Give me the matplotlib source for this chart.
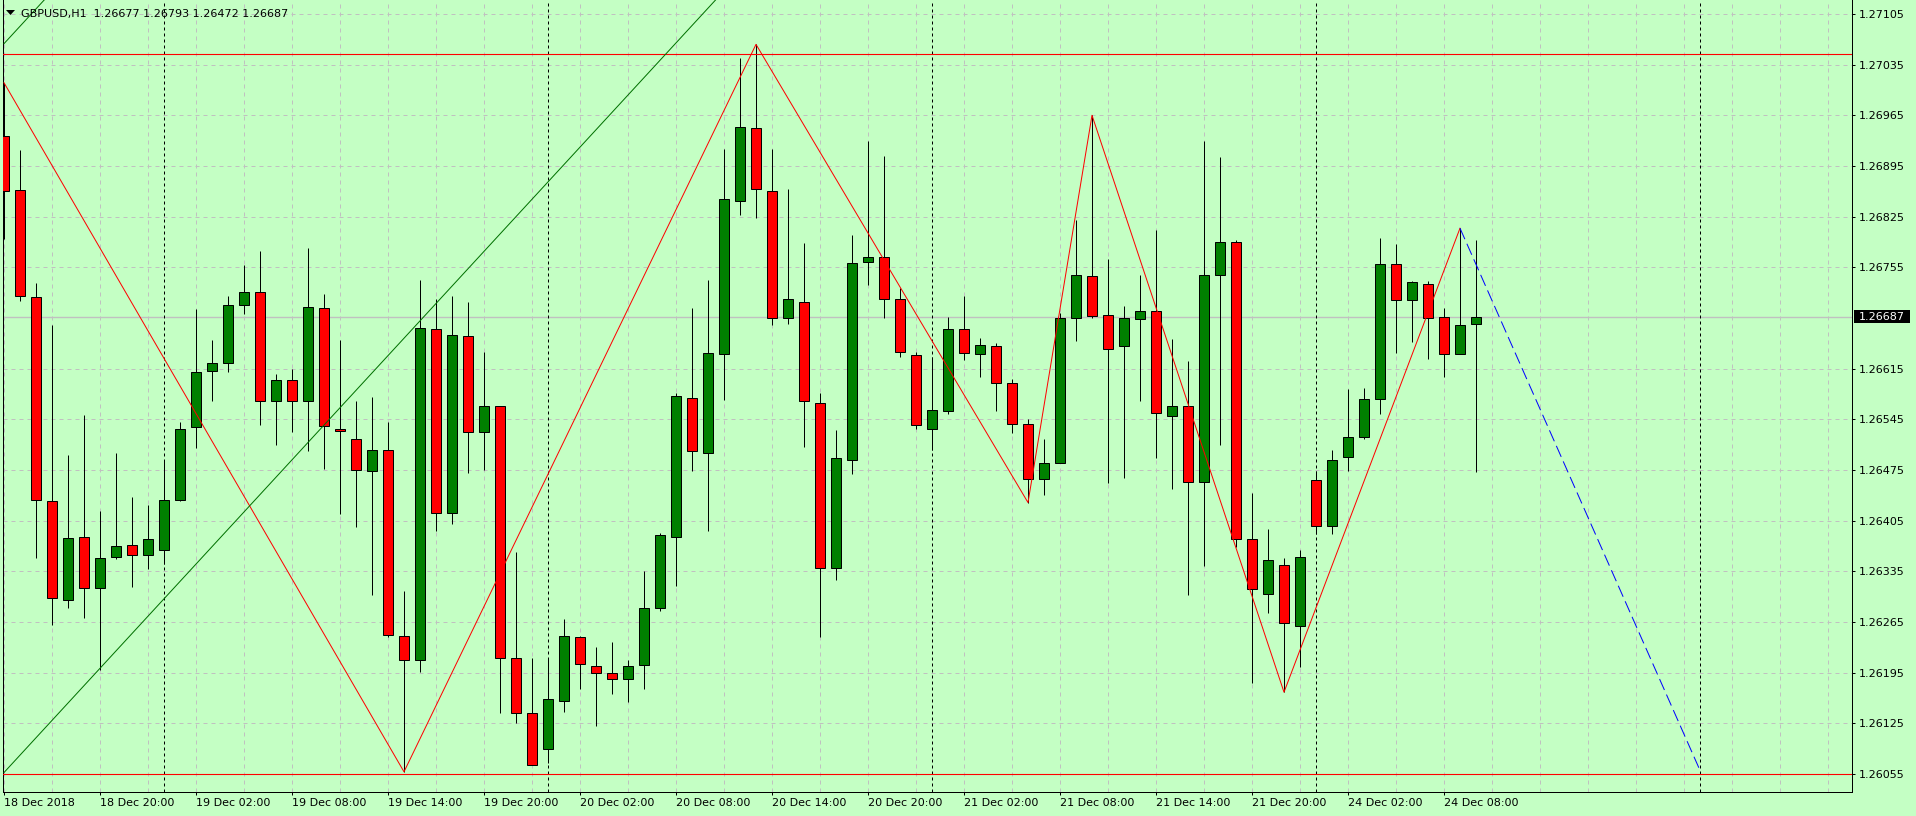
import matplotlib.pyplot as plt
import matplotlib.patches as mpatches
import matplotlib.transforms as mtransforms
import numpy as np

# GBPUSD H1 bars, 18 Dec 14:00 -> 24 Dec 10:00 (weekend skipped)
opens = [1.26936, 1.26862, 1.26714, 1.26432, 1.26296, 1.26383, 1.26312, 1.26355, 1.26371, 1.26358,
         1.26364, 1.26434, 1.26534, 1.26612, 1.26623, 1.26703, 1.26721, 1.26570, 1.26599, 1.26570,
         1.26699, 1.26532, 1.26518, 1.26473, 1.26502, 1.26245, 1.26213, 1.26670, 1.26415, 1.26660,
         1.26527, 1.26563, 1.26215, 1.26139, 1.26090, 1.26156, 1.26244, 1.26204, 1.26194, 1.26186,
         1.26206, 1.26284, 1.26383, 1.26575, 1.26499, 1.26635, 1.26847, 1.26948, 1.26861, 1.26685,
         1.26707, 1.26568, 1.26340, 1.26489, 1.26762, 1.26769, 1.26711, 1.26634, 1.26532, 1.26557,
         1.26670, 1.26635, 1.26646, 1.26595, 1.26539, 1.26462, 1.26484, 1.26685, 1.26743, 1.26689,
         1.26646, 1.26684, 1.26694, 1.26549, 1.26564, 1.26458, 1.26744, 1.26790, 1.26380, 1.26303,
         1.26344, 1.26259, 1.26461, 1.26398, 1.26493, 1.26520, 1.26573, 1.26760, 1.26710, 1.26732,
         1.26686, 1.26635, 1.26677]
highs = [1.27010, 1.26917, 1.26733, 1.26675, 1.26495, 1.26551, 1.26418, 1.26499, 1.26438, 1.26426,
         1.26489, 1.26541, 1.26698, 1.26654, 1.26716, 1.26758, 1.26777, 1.26607, 1.26615, 1.26781,
         1.26718, 1.26655, 1.26570, 1.26576, 1.26541, 1.26308, 1.26737, 1.26711, 1.26715, 1.26707,
         1.26638, 1.26564, 1.26361, 1.26215, 1.26215, 1.26269, 1.26245, 1.26231, 1.26237, 1.26213,
         1.26335, 1.26388, 1.26582, 1.26699, 1.26737, 1.26918, 1.27044, 1.27063, 1.26918, 1.26863,
         1.26788, 1.26581, 1.26530, 1.26800, 1.26929, 1.26909, 1.26727, 1.26638, 1.26631, 1.26687,
         1.26716, 1.26658, 1.26651, 1.26600, 1.26546, 1.26518, 1.26692, 1.26820, 1.26965, 1.26766,
         1.26702, 1.26744, 1.26806, 1.26656, 1.26626, 1.26930, 1.26907, 1.26793, 1.26443, 1.26393,
         1.26353, 1.26365, 1.26473, 1.26503, 1.26587, 1.26588, 1.26796, 1.26787, 1.26736, 1.26736,
         1.26699, 1.26809, 1.26793]
lows = [1.26794, 1.26708, 1.26353, 1.26261, 1.26284, 1.26271, 1.26198, 1.26352, 1.26313, 1.26338,
        1.26345, 1.26432, 1.26505, 1.26570, 1.26610, 1.26690, 1.26537, 1.26510, 1.26528, 1.26501,
        1.26477, 1.26414, 1.26396, 1.26302, 1.26244, 1.26058, 1.26196, 1.26391, 1.26400, 1.26471,
        1.26475, 1.26139, 1.26125, 1.26067, 1.26070, 1.26140, 1.26172, 1.26121, 1.26165, 1.26154,
        1.26172, 1.26280, 1.26315, 1.26473, 1.26391, 1.26571, 1.26827, 1.26823, 1.26675, 1.26676,
        1.26507, 1.26244, 1.26323, 1.26470, 1.26730, 1.26685, 1.26631, 1.26532, 1.26502, 1.26553,
        1.26627, 1.26604, 1.26556, 1.26526, 1.26430, 1.26440, 1.26484, 1.26653, 1.26685, 1.26457,
        1.26464, 1.26570, 1.26491, 1.26449, 1.26302, 1.26342, 1.26509, 1.26368, 1.26180, 1.26278,
        1.26168, 1.26203, 1.26387, 1.26387, 1.26473, 1.26518, 1.26553, 1.26637, 1.26652, 1.26628,
        1.26604, 1.26635, 1.26472]
closes = [1.26861, 1.26715, 1.26433, 1.26298, 1.26381, 1.26312, 1.26353, 1.26370, 1.26357, 1.26379,
          1.26434, 1.26532, 1.26611, 1.26623, 1.26703, 1.26721, 1.26570, 1.26599, 1.26570, 1.26700,
          1.26536, 1.26529, 1.26475, 1.26503, 1.26247, 1.26213, 1.26671, 1.26415, 1.26661, 1.26527,
          1.26563, 1.26215, 1.26139, 1.26067, 1.26158, 1.26245, 1.26207, 1.26194, 1.26186, 1.26204,
          1.26284, 1.26385, 1.26577, 1.26501, 1.26637, 1.26849, 1.26949, 1.26863, 1.26685, 1.26711,
          1.26570, 1.26340, 1.26491, 1.26761, 1.26769, 1.26711, 1.26638, 1.26537, 1.26558, 1.26670,
          1.26637, 1.26647, 1.26595, 1.26539, 1.26462, 1.26485, 1.26685, 1.26745, 1.26688, 1.26642,
          1.26685, 1.26694, 1.26554, 1.26564, 1.26458, 1.26745, 1.26790, 1.26380, 1.26310, 1.26351,
          1.26263, 1.26355, 1.26397, 1.26489, 1.26521, 1.26573, 1.26759, 1.26710, 1.26735, 1.26685,
          1.26635, 1.26675, 1.26687]

# time axis labels (bar index -> text)
tick_pos = [0, 6, 12, 18, 24, 30, 36, 42, 48, 54, 60, 66, 72, 78, 84, 90]
tick_labels = ['18 Dec 2018', '18 Dec 20:00', '19 Dec 02:00', '19 Dec 08:00', '19 Dec 14:00',
               '19 Dec 20:00', '20 Dec 02:00', '20 Dec 08:00', '20 Dec 14:00', '20 Dec 20:00',
               '21 Dec 02:00', '21 Dec 08:00', '21 Dec 14:00', '21 Dec 20:00', '24 Dec 02:00',
               '24 Dec 08:00']
day_separators = [10, 34, 58, 82, 106]
price_ticks = [1.27105, 1.27035, 1.26965, 1.26895, 1.26825, 1.26755, 1.26615, 1.26545,
               1.26475, 1.26405, 1.26335, 1.26265, 1.26195, 1.26125, 1.26055]

# zigzag swing points (bar index, True = high / False = low)
zz_idx = [0, 25, 47, 64, 68, 80, 91]
zz_high = [True, False, True, False, True, False, True]
proj_idx = [91, 106]
proj_price = [1.26809, 1.26060]

# horizontal levels and green channel
levels = [1.27050, 1.26055]
chan_idx = [0, 60]
chan_lower = [1.26057, 1.27497]
chan_upper = [1.27064, 1.28504]

bg = '#c4ffc4'
grid_c = '#c0c0c0'
px = 0.72  # 1 pixel in points at 100 dpi

fig = plt.figure(figsize=(19.16, 8.16), dpi=100, facecolor=bg)
ax = fig.add_axes([3 / 1916, 24 / 816, 1849 / 1916, 792 / 816])
ax.set_facecolor(bg)
plt.rcParams['font.family'] = ['DejaVu Sans']

x = np.arange(len(opens))
o = np.array(opens)
c = np.array(closes)
up = c >= o

# candles
ax.vlines(x, lows, highs, color='black', lw=px, zorder=3)
ax.bar(x[up], np.maximum((c - o)[up], 0.000008), bottom=o[up], width=0.6,
       color='#008000', edgecolor='black', lw=px, zorder=4)
ax.bar(x[~up], np.maximum((o - c)[~up], 0.000008), bottom=c[~up], width=0.6,
       color='#ff0000', edgecolor='black', lw=px, zorder=4)

# objects
for lv in levels:
    ax.axhline(lv, color='#ff0000', lw=px * 1.1, zorder=5)
ax.axhline(closes[-1], color=grid_c, lw=1.0, zorder=1)
for s in day_separators:
    ax.axvline(s, color='black', lw=px, ls=(0, (3, 3)), zorder=2)

zz_price = [highs[i] if h else lows[i] for i, h in zip(zz_idx, zz_high)]
ax.plot(zz_idx, zz_price, color='#ff0000', lw=px, zorder=6)
ax.plot(proj_idx, proj_price, color='#0000ff', lw=px, ls=(0, (12, 5)), zorder=6)
ax.plot(chan_idx, chan_lower, color='#007000', lw=px, zorder=6)
ax.plot(chan_idx, chan_upper, color='#007000', lw=px, zorder=6)

ax.set_xlim(-0.0625, 115.5)
ax.set_ylim(1.260301, 1.271243)

# axes / ticks
ax.yaxis.tick_right()
ax.set_yticks(price_ticks)
ax.set_yticklabels([f'{v:.5f}' for v in price_ticks])
ax.set_xticks(tick_pos)
ax.set_xticklabels(tick_labels, ha='left')
ax.set_xticks(np.arange(0, 116, 3), minor=True)
ax.tick_params(axis='y', direction='out', length=2.2, width=px, pad=3, labelsize=8, colors='black')
ax.tick_params(axis='x', which='major', direction='out', length=2.5, width=px, pad=1.5, labelsize=8)
ax.tick_params(axis='x', which='minor', length=0)
ax.set_axisbelow(True)
ax.grid(True, which='both', axis='x', color=grid_c, lw=px, ls=(0, (4, 4)))
ax.grid(True, which='major', axis='y', color=grid_c, lw=px, ls=(0, (4, 4)))
ax.spines['top'].set_visible(False)
for side in ['left', 'right', 'bottom']:
    ax.spines[side].set_color('black')
    ax.spines[side].set_linewidth(px)

# current price box on the right scale
tr = mtransforms.blended_transform_factory(ax.transAxes, ax.transData)
ax.add_patch(mpatches.Rectangle((1.0011, closes[-1] - 0.00009), 0.0303, 0.00018,
                                transform=tr, facecolor='black', edgecolor='none',
                                clip_on=False, zorder=10))
ax.text(1.0038, closes[-1], f'{closes[-1]:.5f}', transform=tr, color='white',
        fontsize=8, ha='left', va='center', zorder=11, clip_on=False)

# header
tri = mpatches.Polygon([(6 / 1916, 1 - 10 / 816), (15 / 1916, 1 - 10 / 816), (10.5 / 1916, 1 - 15 / 816)],
                       closed=True, transform=fig.transFigure, facecolor='black', edgecolor='none')
fig.patches.append(tri)
fig.text(21 / 1916, 1 - 17 / 816,
         f'GBPUSD,H1  {opens[-1]:.5f} {highs[-1]:.5f} {lows[-1]:.5f} {closes[-1]:.5f}',
         fontsize=8, ha='left', va='baseline', color='black')

fig.savefig('out.png', dpi=100, facecolor=bg)
